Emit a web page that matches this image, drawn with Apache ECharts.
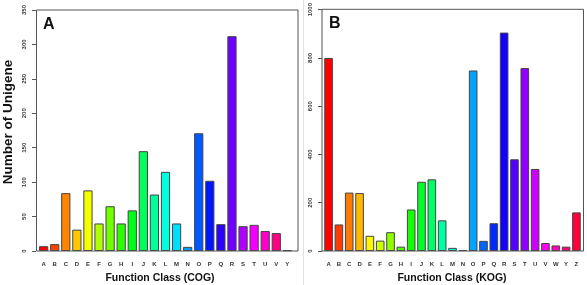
<!DOCTYPE html>
<html>
<head>
<meta charset="utf-8">
<script src="https://cdn.jsdelivr.net/npm/echarts@6/dist/echarts.min.js"></script>
<style>
  html, body { margin: 0; padding: 0; background: #fff; }
  #main { width: 587px; height: 285px; }
</style>
</head>
<body>
<div id="main"></div>
<script>
// COG classes (panel A)
var cogClasses = ['A','B','C','D','E','F','G','H','I','J','K','L','M','N','O','P','Q','R','S','T','U','V','Y'];
var cogCounts  = [7,10,84,31,88,40,65,40,59,145,82,115,40,6,171,102,39,312,36,38,29,26,1];
// KOG classes (panel B)
var kogClasses = ['A','B','C','D','E','F','G','H','I','J','K','L','M','N','O','P','Q','R','S','T','U','V','W','Y','Z'];
var kogCounts  = [800,110,242,240,63,43,78,18,172,287,297,127,13,4,748,42,115,905,380,758,340,33,23,18,160];

var FONT = 'Liberation Sans';

// same as R rainbow(n): hsv(i/n, 1, 1)
function rainbow(i, n) {
  var h = i / n * 6, k = Math.floor(h), f = h - k;
  var q = Math.round((1 - f) * 255), t = Math.round(f * 255);
  var rgb = [[255,t,0],[q,255,0],[0,255,t],[0,q,255],[t,0,255],[255,0,q]][k % 6];
  return 'rgb(' + rgb.join(',') + ')';
}

function yAxisOpt(idx, max, step, off) {
  return {
    type: 'value', gridIndex: idx, min: 0, max: max, interval: step, offset: off,
    axisLine: { show: false },
    axisTick: { show: true, length: 4, lineStyle: { color: '#555' } },
    splitLine: { show: false },
    axisLabel: { rotate: 90, margin: 9, fontSize: 6, fontWeight: 'bold', color: '#333', fontFamily: FONT,
                 formatter: function (v) { return String(v); } }
  };
}
function xAxisOpt(idx, cats) {
  return {
    type: 'category', gridIndex: idx, data: cats,
    axisLine: { show: false }, axisTick: { show: false },
    axisLabel: { margin: 10, fontSize: 6, fontWeight: 'bold', color: '#333', fontFamily: FONT }
  };
}
function barSeries(idx, vals) {
  var n = vals.length;
  return {
    type: 'bar', xAxisIndex: idx, yAxisIndex: idx, data: vals,
    barCategoryGap: '16.7%',
    itemStyle: {
      color: function (p) { return rainbow(p.dataIndex, n); },
      borderColor: '#444', borderWidth: 1
    }
  };
}
function label(txt, x, y, size, rot) {
  return {
    type: 'text', x: x, y: y, rotation: rot || 0, z: 10,
    style: { text: txt, fontSize: size, fontWeight: 'bold', fontFamily: FONT, fill: '#111',
             textAlign: 'center', textVerticalAlign: 'middle' }
  };
}

var chart = echarts.init(document.getElementById('main'));
chart.setOption({
  animation: false,
  backgroundColor: '#fff',
  grid: [
    { left: 38.1, right: 294.1, top: 10, bottom: 34 },
    { left: 323.4, right: 5.4, top: 9.3, bottom: 34 }
  ],
  xAxis: [xAxisOpt(0, cogClasses), xAxisOpt(1, kogClasses)],
  yAxis: [yAxisOpt(0, 350, 50, 2.1), yAxisOpt(1, 1000, 200, 1.4)],
  series: [barSeries(0, cogCounts), barSeries(1, kogCounts)],
  graphic: [
    // plot boxes
    { type: 'rect', shape: { x: 36.5, y: 10, width: 261.5, height: 241 }, z: 5,
      style: { fill: 'none', stroke: '#555', lineWidth: 1 } },
    { type: 'rect', shape: { x: 322, y: 9.3, width: 261.5, height: 241.7 }, z: 5,
      style: { fill: 'none', stroke: '#555', lineWidth: 1 } },
    // faint separator between the panels
    { type: 'line', shape: { x1: 303.5, y1: 0, x2: 303.5, y2: 285 },
      style: { stroke: '#e2e2e2', lineWidth: 1 } },
    label('A', 48.8, 24.4, 16),
    label('B', 334.7, 24, 16),
    label('Number of Unigene', 8, 122, 13.5, Math.PI / 2),
    label('Function Class (COG)', 160, 278, 10.5),
    label('Function Class (KOG)', 452, 278, 10.5)
  ]
});
</script>
</body>
</html>
